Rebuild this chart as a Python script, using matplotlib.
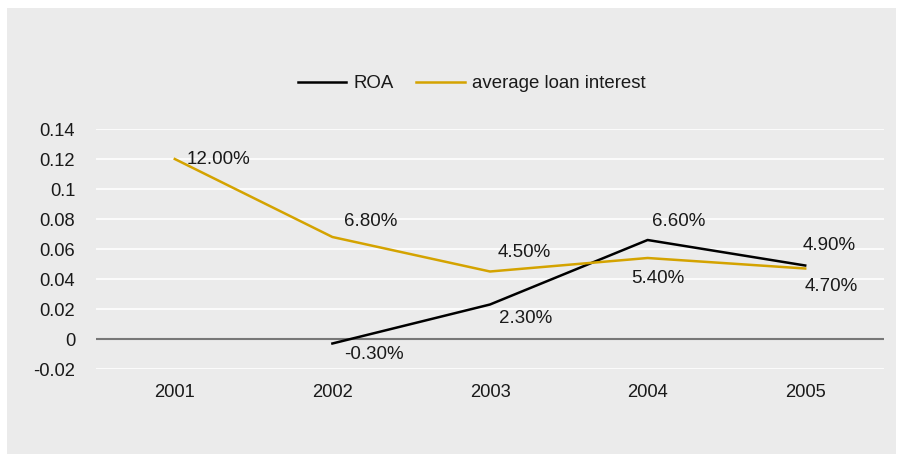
import matplotlib.pyplot as plt
from matplotlib.patches import Rectangle

plt.rcParams['font.family'] = ['Liberation Sans', 'DejaVu Sans']

years = ['2001', '2002', '2003', '2004', '2005']
roa = [None, -0.003, 0.023, 0.066, 0.049]
loan_interest = [0.12, 0.068, 0.045, 0.054, 0.047]

# label offsets in points (dx, dy) from each data point
roa_offsets = [None, (8.6, -8), (6.5, -10), (3, 13.4), (-1.5, 14.5)]
loan_offsets = [(8.6, -0.5), (8.6, 11), (5.8, 13.6), (-12, -14.5), (-0.7, -13)]

BG = '#ebebeb'
GOLD = '#d4a300'
TXT = '#1a1a1a'

fig = plt.figure(figsize=(8.97, 4.54), dpi=100)
fig.patch.set_facecolor('white')
fig.patches.append(Rectangle((7 / 897, -0.01), 889 / 897, 1.01 - 8 / 454, transform=fig.transFigure,
                             facecolor=BG, edgecolor='none', zorder=-10))

ax = fig.add_axes([96 / 897, 1 - 369 / 454, 788 / 897, 240 / 454])
ax.set_facecolor(BG)

x = list(range(len(years)))
roa_x = [i for i, v in zip(x, roa) if v is not None]
roa_y = [v for v in roa if v is not None]
ax.plot(roa_x, roa_y, color='black', lw=1.8, label='ROA', zorder=3)
ax.plot(x, loan_interest, color=GOLD, lw=1.8, label='average loan interest', zorder=3)

for vals, offs in ((roa, roa_offsets), (loan_interest, loan_offsets)):
    for i, v in enumerate(vals):
        if v is None:
            continue
        ax.annotate(f'{v * 100:.2f}%', (i, v), xytext=offs[i], textcoords='offset points',
                    ha='left', va='center', fontsize=13.5, color=TXT)

ax.set_xlim(-0.5, 4.5)
ax.set_ylim(-0.02, 0.14)
ax.set_yticks([-0.02, 0, 0.02, 0.04, 0.06, 0.08, 0.1, 0.12, 0.14])
ax.set_yticklabels(['-0.02', '0', '0.02', '0.04', '0.06', '0.08', '0.1', '0.12', '0.14'])
ax.set_xticks(x)
ax.set_xticklabels(years)
ax.grid(axis='y', color='white', lw=1.2)
ax.set_axisbelow(True)
ax.axhline(0, color='#777777', lw=1.5, zorder=2)
for s in ax.spines.values():
    s.set_visible(False)
ax.tick_params(length=0, labelsize=13.2, colors=TXT)
ax.tick_params(axis='y', pad=15)
ax.tick_params(axis='x', pad=10.5)

leg = ax.legend(loc='center', bbox_to_anchor=(0.477, 1.188), ncol=2, frameon=False,
                fontsize=13.4, handlelength=2.6, columnspacing=1.2, handletextpad=0.4)
for t in leg.get_texts():
    t.set_color(TXT)

fig.savefig('out.png', dpi=100, facecolor=fig.get_facecolor())
